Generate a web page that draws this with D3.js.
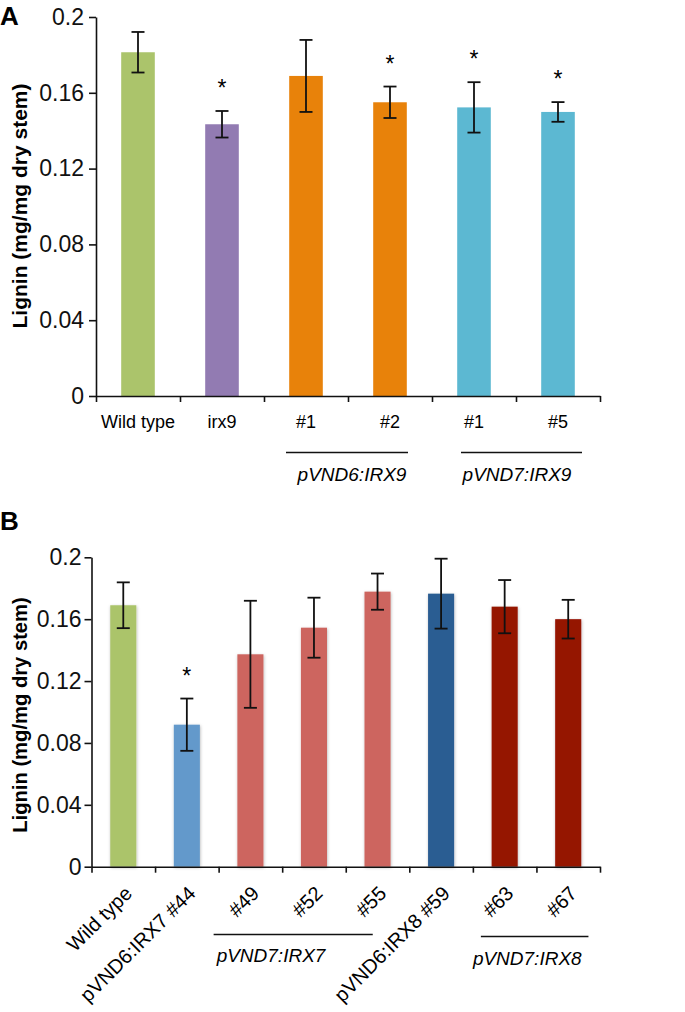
<!DOCTYPE html>
<html>
<head>
<meta charset="utf-8">
<script src="https://cdn.jsdelivr.net/npm/d3@7"></script>
<style>
  body { margin: 0; background: #fff; }
  svg { display: block; font-family: "Liberation Sans", Arial, Helvetica, sans-serif; }
</style>
</head>
<body>
<div id="chart"></div>
<script>
// ---- data: panel A ----
const catsA = ["Wild type", "irx9", "#1", "#2", "#1 ", "#5"];
const meansA = [0.1814, 0.1434, 0.1689, 0.155, 0.1523, 0.1499];
const errsA = [0.0107, 0.0070, 0.0190, 0.0083, 0.0133, 0.0052];
const starsA = [false, true, false, true, true, true];
const colorsA = ["#abc46b", "#927bb2", "#e8820a", "#e8820a", "#5cb8d2", "#5cb8d2"];
const groupsA = [
  { label: "pVND6:IRX9", first: 2, last: 3 },
  { label: "pVND7:IRX9", first: 4, last: 5 }
];

// ---- data: panel B ----
const catsB = ["Wild type", "pVND6:IRX7 #44", "#49", "#52", "#55", "pVND6:IRX8 #59", "#63", "#67"];
const meansB = [0.169, 0.0918, 0.1373, 0.1545, 0.1778, 0.1765, 0.1681, 0.160];
const errsB = [0.0148, 0.0169, 0.0346, 0.0194, 0.0117, 0.0226, 0.0172, 0.0125];
const starsB = [false, true, false, false, false, false, false, false];
const colorsB = ["#abc46b", "#6399cb", "#cd655f", "#cd655f", "#cd655f", "#2b5d92", "#951400", "#951400"];
const groupsB = [
  { label: "pVND7:IRX7", first: 2, last: 4 },
  { label: "pVND7:IRX8", first: 6, last: 7 }
];

const yTicks = [0, 0.04, 0.08, 0.12, 0.16, 0.2];
const yTitle = "Lignin (mg/mg dry stem)";

const W = 685, H = 1012;
const svg = d3.select("#chart").append("svg").attr("width", W).attr("height", H);
svg.append("rect").attr("width", W).attr("height", H).attr("fill", "#fff");

const defs = svg.append("defs");
defs.append("filter").attr("id", "shadow")
  .attr("x", "-30%").attr("y", "-10%").attr("width", "160%").attr("height", "120%")
  .append("feDropShadow")
  .attr("dx", 0.5).attr("dy", 1).attr("stdDeviation", 1.6)
  .attr("flood-color", "#000").attr("flood-opacity", 0.28);

function fmt(d) { return d === 0 ? "0" : String(+d.toFixed(2)); }

function panel(o) {
  const g = svg.append("g");
  const n = o.cats.length;
  const x = d3.scaleBand().domain(d3.range(n)).range([o.x0, o.x1]).padding(0);
  const xb = d3.scaleLinear().domain([0, n]).range([o.x0, o.x1]);
  const y = d3.scaleLinear().domain([0, 0.2]).range([o.y0, o.y1]);
  const bw = x.bandwidth() * o.barFrac;
  const cx = i => x(i) + x.bandwidth() / 2;

  // bars
  g.selectAll("rect.bar").data(o.means).join("rect")
    .attr("class", "bar")
    .attr("x", (d, i) => x(i) + (x.bandwidth() - bw) / 2)
    .attr("width", bw)
    .attr("y", d => y(d))
    .attr("height", d => y(0) - y(d))
    .attr("fill", (d, i) => o.colors[i])
    .attr("filter", o.shadow ? "url(#shadow)" : null);

  // error bars
  const eb = g.selectAll("g.err").data(o.means).join("g").attr("class", "err")
    .attr("stroke", "#111").attr("stroke-width", 1.8).attr("fill", "none");
  eb.append("line").attr("x1", (d, i) => cx(i)).attr("x2", (d, i) => cx(i))
    .attr("y1", (d, i) => y(d + o.errs[i])).attr("y2", (d, i) => y(d - o.errs[i]));
  eb.append("line").attr("x1", (d, i) => cx(i) - 6.5).attr("x2", (d, i) => cx(i) + 6.5)
    .attr("y1", (d, i) => y(d + o.errs[i])).attr("y2", (d, i) => y(d + o.errs[i]));
  eb.append("line").attr("x1", (d, i) => cx(i) - 6.5).attr("x2", (d, i) => cx(i) + 6.5)
    .attr("y1", (d, i) => y(d - o.errs[i])).attr("y2", (d, i) => y(d - o.errs[i]));

  // significance stars
  g.selectAll("text.star").data(o.means.map((d, i) => ({ d, i })).filter(e => o.stars[e.i])).join("text")
    .attr("class", "star")
    .attr("x", e => cx(e.i))
    .attr("y", e => y(e.d + o.errs[e.i]) - 28 + 13)
    .attr("text-anchor", "middle")
    .style("font-size", "23px")
    .text("*");

  // y axis
  const ya = g.append("g").attr("transform", `translate(${o.x0},0)`)
    .call(d3.axisLeft(y).tickValues(yTicks).tickFormat(fmt).tickSize(7).tickSizeOuter(0).tickPadding(o.tickPad));
  ya.selectAll("text").style("font-size", "23px").attr("fill", "#111");
  ya.selectAll("line, path").attr("stroke", "#111").attr("stroke-width", 1.6);

  // x axis, ticks on category boundaries
  const xa = g.append("g").attr("transform", `translate(0,${o.y0})`)
    .call(d3.axisBottom(xb).tickValues(d3.range(n + 1)).tickFormat("").tickSize(6).tickSizeOuter(0));
  xa.selectAll("line, path").attr("stroke", "#111").attr("stroke-width", 1.6);

  // y title
  g.append("text")
    .attr("transform", `translate(${o.titleX},${o.titleY}) rotate(-90)`)
    .attr("text-anchor", "middle")
    .attr("dy", "0.35em")
    .style("font-size", o.titleSize + "px")
    .style("font-weight", "bold")
    .text(yTitle);

  // panel letter
  g.append("text").attr("x", 0).attr("y", o.letterY)
    .style("font-size", "26px").style("font-weight", "bold").text(o.letter);

  // category labels
  if (o.rotate) {
    g.selectAll("text.cat").data(o.cats).join("text").attr("class", "cat")
      .attr("transform", (d, i) => `translate(${cx(i) + 10},${o.y0 + 28}) rotate(-45)`)
      .attr("text-anchor", "end")
      .style("font-size", "20px")
      .text(d => d.trim());
  } else {
    g.selectAll("text.cat").data(o.cats).join("text").attr("class", "cat")
      .attr("x", (d, i) => cx(i)).attr("y", o.y0 + 32)
      .attr("text-anchor", "middle")
      .style("font-size", "18px")
      .text(d => d.trim());
  }

  // group underline + italic label
  o.groups.forEach((gr, k) => {
    const L = o.groupLayout[k];
    const xs = x(gr.first) + L.s, xe = x(gr.last) + L.e;
    g.append("line").attr("x1", xs).attr("x2", xe).attr("y1", L.ly).attr("y2", L.ly)
      .attr("stroke", "#111").attr("stroke-width", 1.6);
    g.append("text").attr("x", xs + L.tx).attr("y", L.ty)
      .attr("text-anchor", L.anchor)
      .style("font-size", "19px").style("font-style", "italic")
      .text(gr.label);
  });
}

panel({
  cats: catsA, means: meansA, errs: errsA, stars: starsA, colors: colorsA, groups: groupsA,
  x0: 96, x1: 600, y0: 396, y1: 17, barFrac: 0.4, tickPad: 5, shadow: false,
  titleX: 20, titleY: 206, titleSize: 21, letter: "A", letterY: 25, rotate: false,
  groupLayout: [
    { s: 22, e: 60, ly: 452.5, tx: 66, ty: 481, anchor: "middle" },
    { s: 29, e: 66, ly: 452.5, tx: 56, ty: 481, anchor: "middle" }
  ]
});

panel({
  cats: catsB, means: meansB, errs: errsB, stars: starsB, colors: colorsB, groups: groupsB,
  x0: 91.5, x1: 600, y0: 866.7, y1: 557.3, barFrac: 0.41, tickPad: 3, shadow: true,
  titleX: 20, titleY: 715, titleSize: 20.2, letter: "B", letterY: 530, rotate: true,
  groupLayout: [
    { s: -5, e: 27, ly: 934.5, tx: 3, ty: 962, anchor: "start" },
    { s: 8, e: 52, ly: 936.5, tx: -8, ty: 965, anchor: "start" }
  ]
});
</script>
</body>
</html>
